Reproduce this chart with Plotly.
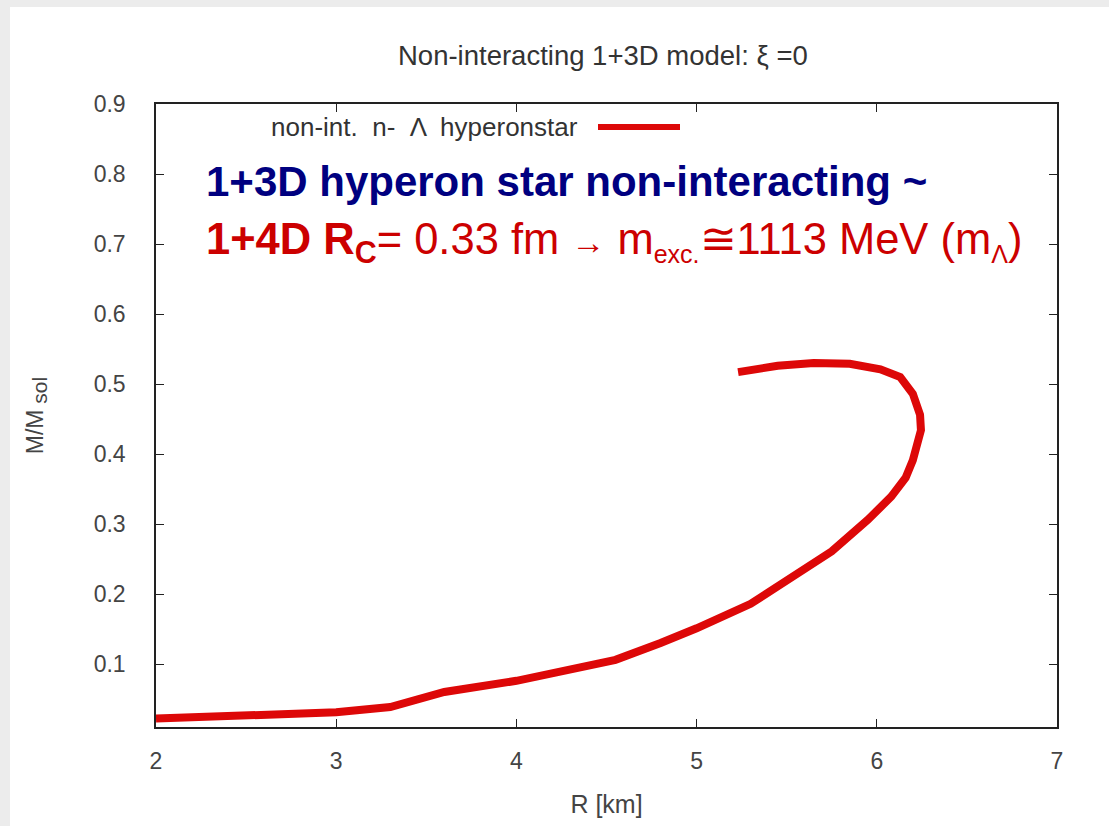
import plotly.graph_objects as go

# Mass-radius relation of the non-interacting n-Lambda hyperon star
R_km = [2.0, 2.5, 3.0, 3.3, 3.6, 4.0, 4.3, 4.55, 4.8, 5.0, 5.3, 5.5, 5.75,
        5.95, 6.08, 6.16, 6.2, 6.245, 6.24, 6.2, 6.13, 6.02, 5.85, 5.65,
        5.45, 5.23]
M_sol = [0.022, 0.027, 0.031, 0.0386, 0.06, 0.076, 0.091, 0.106, 0.130,
         0.151, 0.186, 0.22, 0.261, 0.306, 0.339, 0.366, 0.391, 0.434,
         0.456, 0.486, 0.51, 0.521, 0.529, 0.530, 0.526, 0.517]

x_ticks = [2, 3, 4, 5, 6, 7]
y_ticks = [0.1, 0.2, 0.3, 0.4, 0.5, 0.6, 0.7, 0.8, 0.9]

W, H = 1109, 826
ML, MR, MT, MB = 156, 52, 104, 99
PW, PH = W - ML - MR, H - MT - MB


def px(x):
    return (x - ML) / PW


def py(y):
    return (H - MB - y) / PH


RED = "#dd0808"
FONT = "Liberation Sans"

fig = go.Figure()
fig.add_trace(go.Scatter(x=R_km, y=M_sol, mode="lines",
                         line=dict(color=RED, width=8),
                         showlegend=False, hoverinfo="skip"))

axis_common = dict(showgrid=False, zeroline=False, showline=True,
                   linecolor="#222", linewidth=1.5, mirror="ticks",
                   ticks="inside", ticklen=8, tickcolor="#222",
                   tickfont=dict(family=FONT, size=23, color="#444"))

fig.update_xaxes(range=[2, 7], tickvals=x_ticks, ticklabelstandoff=13,
                 title=dict(text="R [km]", font=dict(family=FONT, size=25, color="#444"),
                            standoff=22),
                 **axis_common)
fig.update_yaxes(range=[0.01, 0.9], tickvals=y_ticks,
                 ticktext=[f"{v:.1f}" for v in y_ticks], ticklabelstandoff=24,
                 title=dict(text="M/M<sub><span style='font-size:21px'> sol</span></sub>",
                            font=dict(family=FONT, size=23, color="#444"),
                            standoff=44),
                 **axis_common)

shapes = [
    # white panel on the grey page
    dict(type="rect", xref="paper", yref="paper", x0=px(10), x1=px(W + 5),
         y0=py(H + 5), y1=py(7), fillcolor="white", line=dict(width=0),
         layer="below"),
    # legend sample line
    dict(type="line", xref="paper", yref="paper", x0=px(598), x1=px(680),
         y0=py(127), y1=py(127), line=dict(color=RED, width=6)),
]

annotations = [
    dict(text="Non-interacting 1+3D model: ξ =0", xref="paper", yref="paper",
         x=px(603), y=py(55), xanchor="center", yanchor="middle", showarrow=False,
         font=dict(family=FONT, size=27.5, color="#333")),
    dict(text="non-int.  n-  Λ  hyperonstar", xref="paper", yref="paper",
         x=px(580), y=py(127), xanchor="right", yanchor="middle", showarrow=False,
         font=dict(family=FONT, size=26, color="#333")),
    dict(text="<b>1+3D hyperon star non-interacting ~</b>", xref="paper", yref="paper",
         x=px(204), y=py(182), xanchor="left", yanchor="middle", showarrow=False,
         font=dict(family=FONT, size=42, color="#000080")),
    dict(text="<b>1+4D R<sub>C</sub></b>= 0.33 fm <span style='font-size:34px'>→</span> m"
              "<sub><span style='font-size:25px'>exc.</span></sub>≅1113 MeV (m"
              "<sub><span style='font-size:25px'>Λ</span></sub>)",
         xref="paper", yref="paper",
         x=px(204), y=py(242), xanchor="left", yanchor="middle", showarrow=False,
         font=dict(family=FONT, size=43.5, color="#cc0000")),
]

fig.update_layout(width=W, height=H, margin=dict(l=ML, r=MR, t=MT, b=MB),
                  paper_bgcolor="#ececec", plot_bgcolor="white",
                  shapes=shapes, annotations=annotations, showlegend=False)

fig.write_html("out.html")
